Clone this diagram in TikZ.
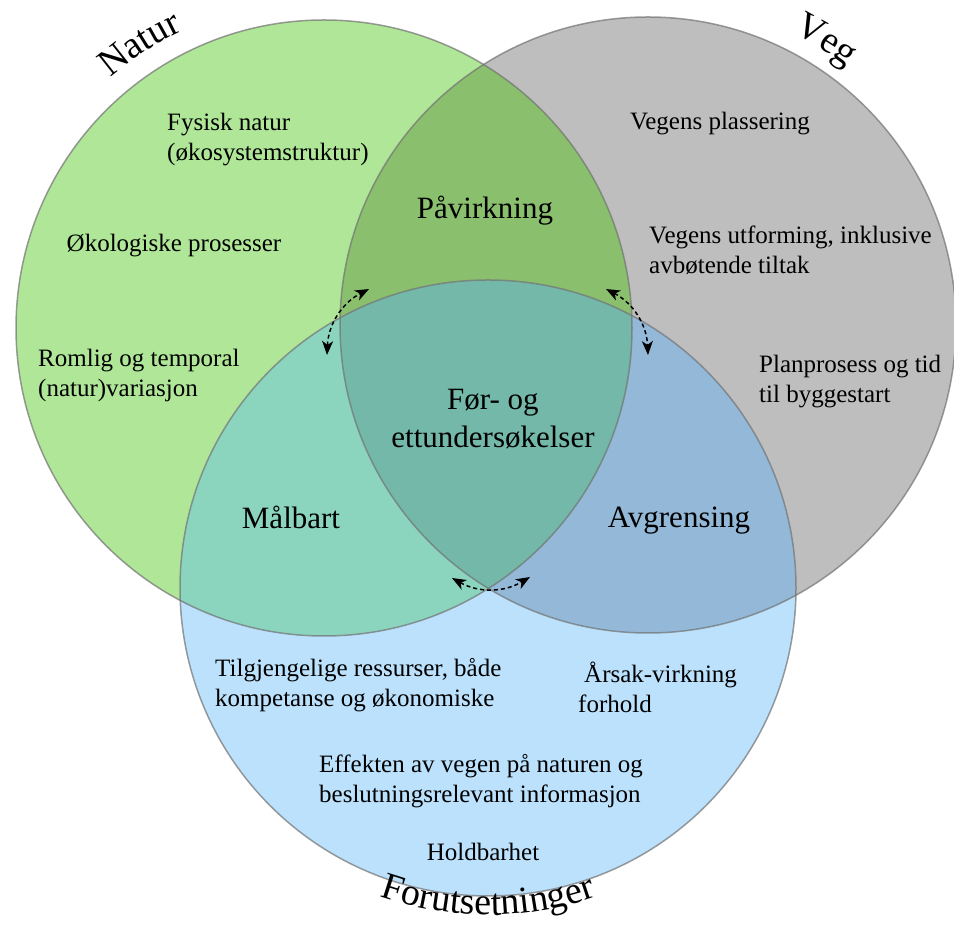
\documentclass[tikz,border=0pt]{standalone}
\usepackage{fontspec}
\setmainfont{Liberation Serif}
\usetikzlibrary{arrows.meta, decorations.text}

\definecolor{natgreen}{RGB}{176,230,152}
\definecolor{veggrey}{RGB}{190,190,190}
\definecolor{forblue}{RGB}{187,225,252}
\definecolor{natveg}{RGB}{138,191,110}
\definecolor{natfor}{RGB}{139,212,190}
\definecolor{vegfor}{RGB}{147,184,216}
\definecolor{allthree}{RGB}{115,184,168}

\newcommand{\vennr}{308}
\newcommand{\smallsize}{\fontsize{25}{30}\selectfont}
\newcommand{\bigsize}{\fontsize{31}{38}\selectfont}
\newcommand{\titlesize}{\fontsize{38}{40}\selectfont}

\tikzstyle{smalltext} = [% left aligned text block
  inner sep=0pt,
  font=\smallsize,
  align=left
  ]
\tikzstyle{centertext} = [% centred text block
  inner sep=0pt,
  font=\smallsize,
  align=center
  ]
\tikzstyle{bigtext} = [% overlap labels
  inner sep=0pt,
  font=\bigsize,
  align=center
  ]
\tikzstyle{ring} = [% circle outline
  draw=black!55,
  line width=1.5pt,
  opacity=0.7
  ]
\tikzstyle{dasharrow} = [% dashed two-way arrow
  line width=1.5pt,
  dash pattern=on 4pt off 3pt,
  {Stealth[length=14pt,width=11pt,inset=4pt]}-{Stealth[length=14pt,width=11pt,inset=4pt]}
  ]

\begin{document}
\begin{tikzpicture}[x=1pt, y=1pt]
\useasboundingbox (0,0) rectangle (954,926);

%%% Circle centres
\coordinate (natc) at (324,598);
\coordinate (vegc) at (648,601);
\coordinate (forc) at (488,338);

%%% Fills
\fill[natgreen] (natc) circle[radius=\vennr];
\fill[veggrey] (vegc) circle[radius=\vennr];
\fill[forblue] (forc) circle[radius=\vennr];
\begin{scope}
  \clip (vegc) circle[radius=\vennr];
  \fill[vegfor] (forc) circle[radius=\vennr];
\end{scope}
\begin{scope}
  \clip (natc) circle[radius=\vennr];
  \fill[natveg] (vegc) circle[radius=\vennr];
  \fill[natfor] (forc) circle[radius=\vennr];
  \clip (vegc) circle[radius=\vennr];
  \fill[allthree] (forc) circle[radius=\vennr];
\end{scope}

%%% Outlines
\draw[ring] (natc) circle[radius=\vennr];
\draw[ring] (vegc) circle[radius=\vennr];
\draw[ring] (forc) circle[radius=\vennr];

%%% Titles
\path[decorate, decoration={text along path, text={|\titlesize|Natur}, text align=center}]
  (natc) ++(143:329) arc[start angle=143, end angle=103, radius=329];
\path[decorate, decoration={text along path, text={|\titlesize|Veg}, text align=center}]
  (vegc) ++(78:326) arc[start angle=78, end angle=38, radius=326];
\path[decorate, decoration={text along path, text={|\titlesize|Forutsetninger}, text align=center}]
  (forc) ++(250:327) arc[start angle=250, end angle=290, radius=327];

%%% Nodes
\node[smalltext, anchor=west] (fysisk) at (167,786) {Fysisk natur\\(økosystemstruktur)};
\node[centertext] (okolog) at (174,680) {Økologiske prosesser};
\node[smalltext, anchor=west] (romlig) at (38,551) {Romlig og temporal\\(natur)variasjon};
\node[bigtext] (pavirk) at (485,715) {Påvirkning};
\node[centertext] (plass) at (720,802) {Vegens plassering};
\node[smalltext, anchor=west] (utform) at (649,676) {Vegens utforming, inklusive\\avbøtende tiltak};
\node[smalltext, anchor=west] (planpr) at (759,544) {Planprosess og tid\\til byggestart};
\node[bigtext] (foretter) at (493,507) {Før- og\\ettundersøkelser};
\node[bigtext] (malbart) at (291,409) {Målbart};
\node[bigtext] (avgrens) at (679,405) {Avgrensing};
\node[smalltext, anchor=west] (ressurs) at (215,241) {Tilgjengelige ressurser, både\\kompetanse og økonomiske};
\node[smalltext, anchor=west] (arsak) at (578,239) {\hspace{6pt}Årsak-virkning\\forhold};
\node[smalltext, anchor=west] (effekt) at (319,145) {Effekten av vegen på naturen og\\beslutningsrelevant informasjon};
\node[centertext] (holdbar) at (483,74) {Holdbarhet};

%%% Arrows
\coordinate (leftlow) at (327,571);
\coordinate (lefthigh) at (369,637);
\coordinate (righthigh) at (606,637);
\coordinate (rightlow) at (648,571);
\coordinate (botleft) at (452,348);
\coordinate (botright) at (530,349);
\draw[dasharrow] (leftlow) to[bend left=30] (lefthigh);
\draw[dasharrow] (righthigh) to[bend left=30] (rightlow);
\draw[dasharrow] (botleft) to[bend right=30] (botright);

\end{tikzpicture}
\end{document}
